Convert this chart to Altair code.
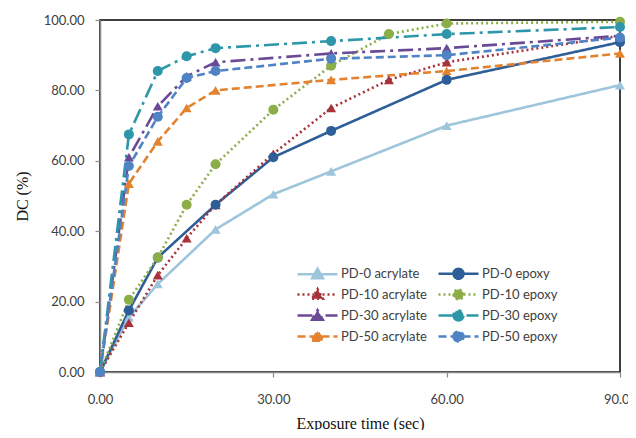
import altair as alt
import pandas as pd

series = ["PD-0 acrylate", "PD-0 epoxy", "PD-10 acrylate", "PD-10 epoxy",
          "PD-30 acrylate", "PD-30 epoxy", "PD-50 acrylate", "PD-50 epoxy"]

pd0_acr_t = [0, 5, 10, 20, 30, 40, 60, 90]
pd0_acr_v = [0, 15.5, 25, 40.5, 50.5, 57, 70, 81.5]
pd0_epo_t = [0, 5, 10, 20, 30, 40, 60, 90]
pd0_epo_v = [0, 17.5, 32.5, 47.5, 61, 68.5, 83, 93.7]
pd10_acr_t = [0, 5, 10, 15, 20, 30, 40, 50, 60, 90]
pd10_acr_v = [0, 14, 27.5, 38, 47.5, 62, 75, 83, 88, 95.5]
pd10_epo_t = [0, 5, 10, 15, 20, 30, 40, 50, 60, 90]
pd10_epo_v = [0, 20.5, 32.5, 47.5, 59, 74.5, 87, 96, 99, 99.5]
pd30_acr_t = [0, 5, 10, 15, 20, 40, 60, 90]
pd30_acr_v = [0, 61, 75.5, 84, 88, 90.5, 92, 95.5]
pd30_epo_t = [0, 5, 10, 15, 20, 40, 60, 90]
pd30_epo_v = [0, 67.5, 85.5, 89.7, 92, 94, 96, 98]
pd50_acr_t = [0, 5, 10, 15, 20, 40, 60, 90]
pd50_acr_v = [0, 53.5, 65.5, 75, 80, 83, 85.5, 90.5]
pd50_epo_t = [0, 5, 10, 15, 20, 40, 60, 90]
pd50_epo_v = [0, 58.5, 72.5, 83.5, 85.5, 89, 90, 95]

x_ticks = [0, 30, 60, 90]
y_ticks = [0, 20, 40, 60, 80, 100]

colors = ["#9ec5dc", "#2e5e98", "#a8323a", "#8bae48",
          "#6a4a97", "#2d96a8", "#e3822f", "#4f83c4"]
dashes = [[1, 0], [1, 0], [2, 3], [2, 3],
          [15, 5, 3, 5], [15, 5, 3, 5], [8, 4], [8, 4]]

tri = "M-4,0L4,0M-1.08,0.84L1.08,0.84L0,-1.08Z"
cir = "M-4,0L4,0M-1,0A1,1,0,1,0,1,0A1,1,0,1,0,-1,0Z"
legend_shapes = [tri, cir] * 4

ts = [pd0_acr_t, pd0_epo_t, pd10_acr_t, pd10_epo_t, pd30_acr_t, pd30_epo_t, pd50_acr_t, pd50_epo_t]
vs = [pd0_acr_v, pd0_epo_v, pd10_acr_v, pd10_epo_v, pd30_acr_v, pd30_epo_v, pd50_acr_v, pd50_epo_v]
rows = []
for s, t, v in zip(series, ts, vs):
    for a, b in zip(t, v):
        rows.append({"series": s, "t": a, "v": b, "kind": s.split(" ")[1]})
df = pd.DataFrame(rows)

x = alt.X("t:Q", scale=alt.Scale(domain=[0, 90], nice=False),
          axis=alt.Axis(values=x_ticks, format=".2f", grid=False, labelFlush=False,
                        domainColor="#8a8a8a", domainWidth=1.5, tickColor="#8a8a8a",
                        tickSize=5, tickWidth=1.2, labelFont="Lato", labelFontSize=13,
                        labelColor="#404040", labelPadding=16,
                        title="Exposure time (sec)", titleFont="Liberation Serif",
                        titleFontSize=16, titleFontWeight="normal", titleColor="#111111",
                        titleX=260, titleY=51, titleBaseline="middle", titleAlign="center"))
y = alt.Y("v:Q", scale=alt.Scale(domain=[0, 100], nice=False),
          axis=alt.Axis(values=y_ticks, format=".2f", grid=False,
                        domainColor="#8a8a8a", domainWidth=1.5, tickColor="#8a8a8a",
                        tickSize=5, tickWidth=1.2, labelFont="Lato", labelFontSize=13,
                        labelColor="#404040", labelPadding=11,
                        title="DC (%)", titleFont="Liberation Serif",
                        titleFontSize=16, titleFontWeight="normal", titleColor="#111111",
                        titleX=-78, titleY=176, titleAngle=270,
                        titleBaseline="middle", titleAlign="center"))

color_scale = alt.Scale(domain=series, range=colors)
dash_scale = alt.Scale(domain=series, range=dashes)
shape_scale = alt.Scale(domain=series, range=legend_shapes)

lines = alt.Chart(df).mark_line(strokeWidth=2.6).encode(
    x=x, y=y,
    stroke=alt.Stroke("series:N", scale=color_scale, legend=None),
    strokeDash=alt.StrokeDash("series:N", scale=dash_scale, legend=None),
)

pts_acr = alt.Chart(df).transform_filter("datum.kind == 'acrylate'").mark_point(
    filled=True, size=100, opacity=1, shape="triangle-up").encode(
    x=x, y=y,
    fill=alt.Fill("series:N", scale=color_scale, legend=None),
)
pts_epo = alt.Chart(df).transform_filter("datum.kind == 'epoxy'").mark_point(
    filled=True, size=100, opacity=1, shape="circle").encode(
    x=x, y=y,
    fill=alt.Fill("series:N", scale=color_scale, legend=None),
)

leg = alt.Legend(orient="none", legendX=211, legendY=247, columns=2, direction="horizontal",
                 title=None, symbolSize=100, symbolStrokeWidth=2.5, labelFont="Lato",
                 labelFontSize=13, labelColor="#404040", labelOffset=17,
                 columnPadding=6, rowPadding=0, symbolOpacity=1)

legend_layer = alt.Chart(df).transform_filter("datum.t < 0").mark_point(
    filled=True, opacity=1).encode(
    x=x, y=y,
    fill=alt.Fill("series:N", scale=color_scale, legend=leg),
    stroke=alt.Stroke("series:N", scale=color_scale, legend=leg),
    strokeDash=alt.StrokeDash("series:N", scale=dash_scale, legend=leg),
    shape=alt.Shape("series:N", scale=shape_scale, legend=leg),
)

chart = alt.layer(lines, pts_acr, pts_epo, legend_layer).resolve_legend(
    fill="independent", stroke="independent", strokeDash="independent", shape="independent"
).properties(
    width=520, height=352,
    autosize=alt.AutoSizeParams(type="none"),
    padding={"left": 92, "top": 12, "right": 8, "bottom": 58},
).configure_view(stroke="black", strokeWidth=1.5)

chart.save("out.html", embed_options={"renderer": "svg", "actions": False})
